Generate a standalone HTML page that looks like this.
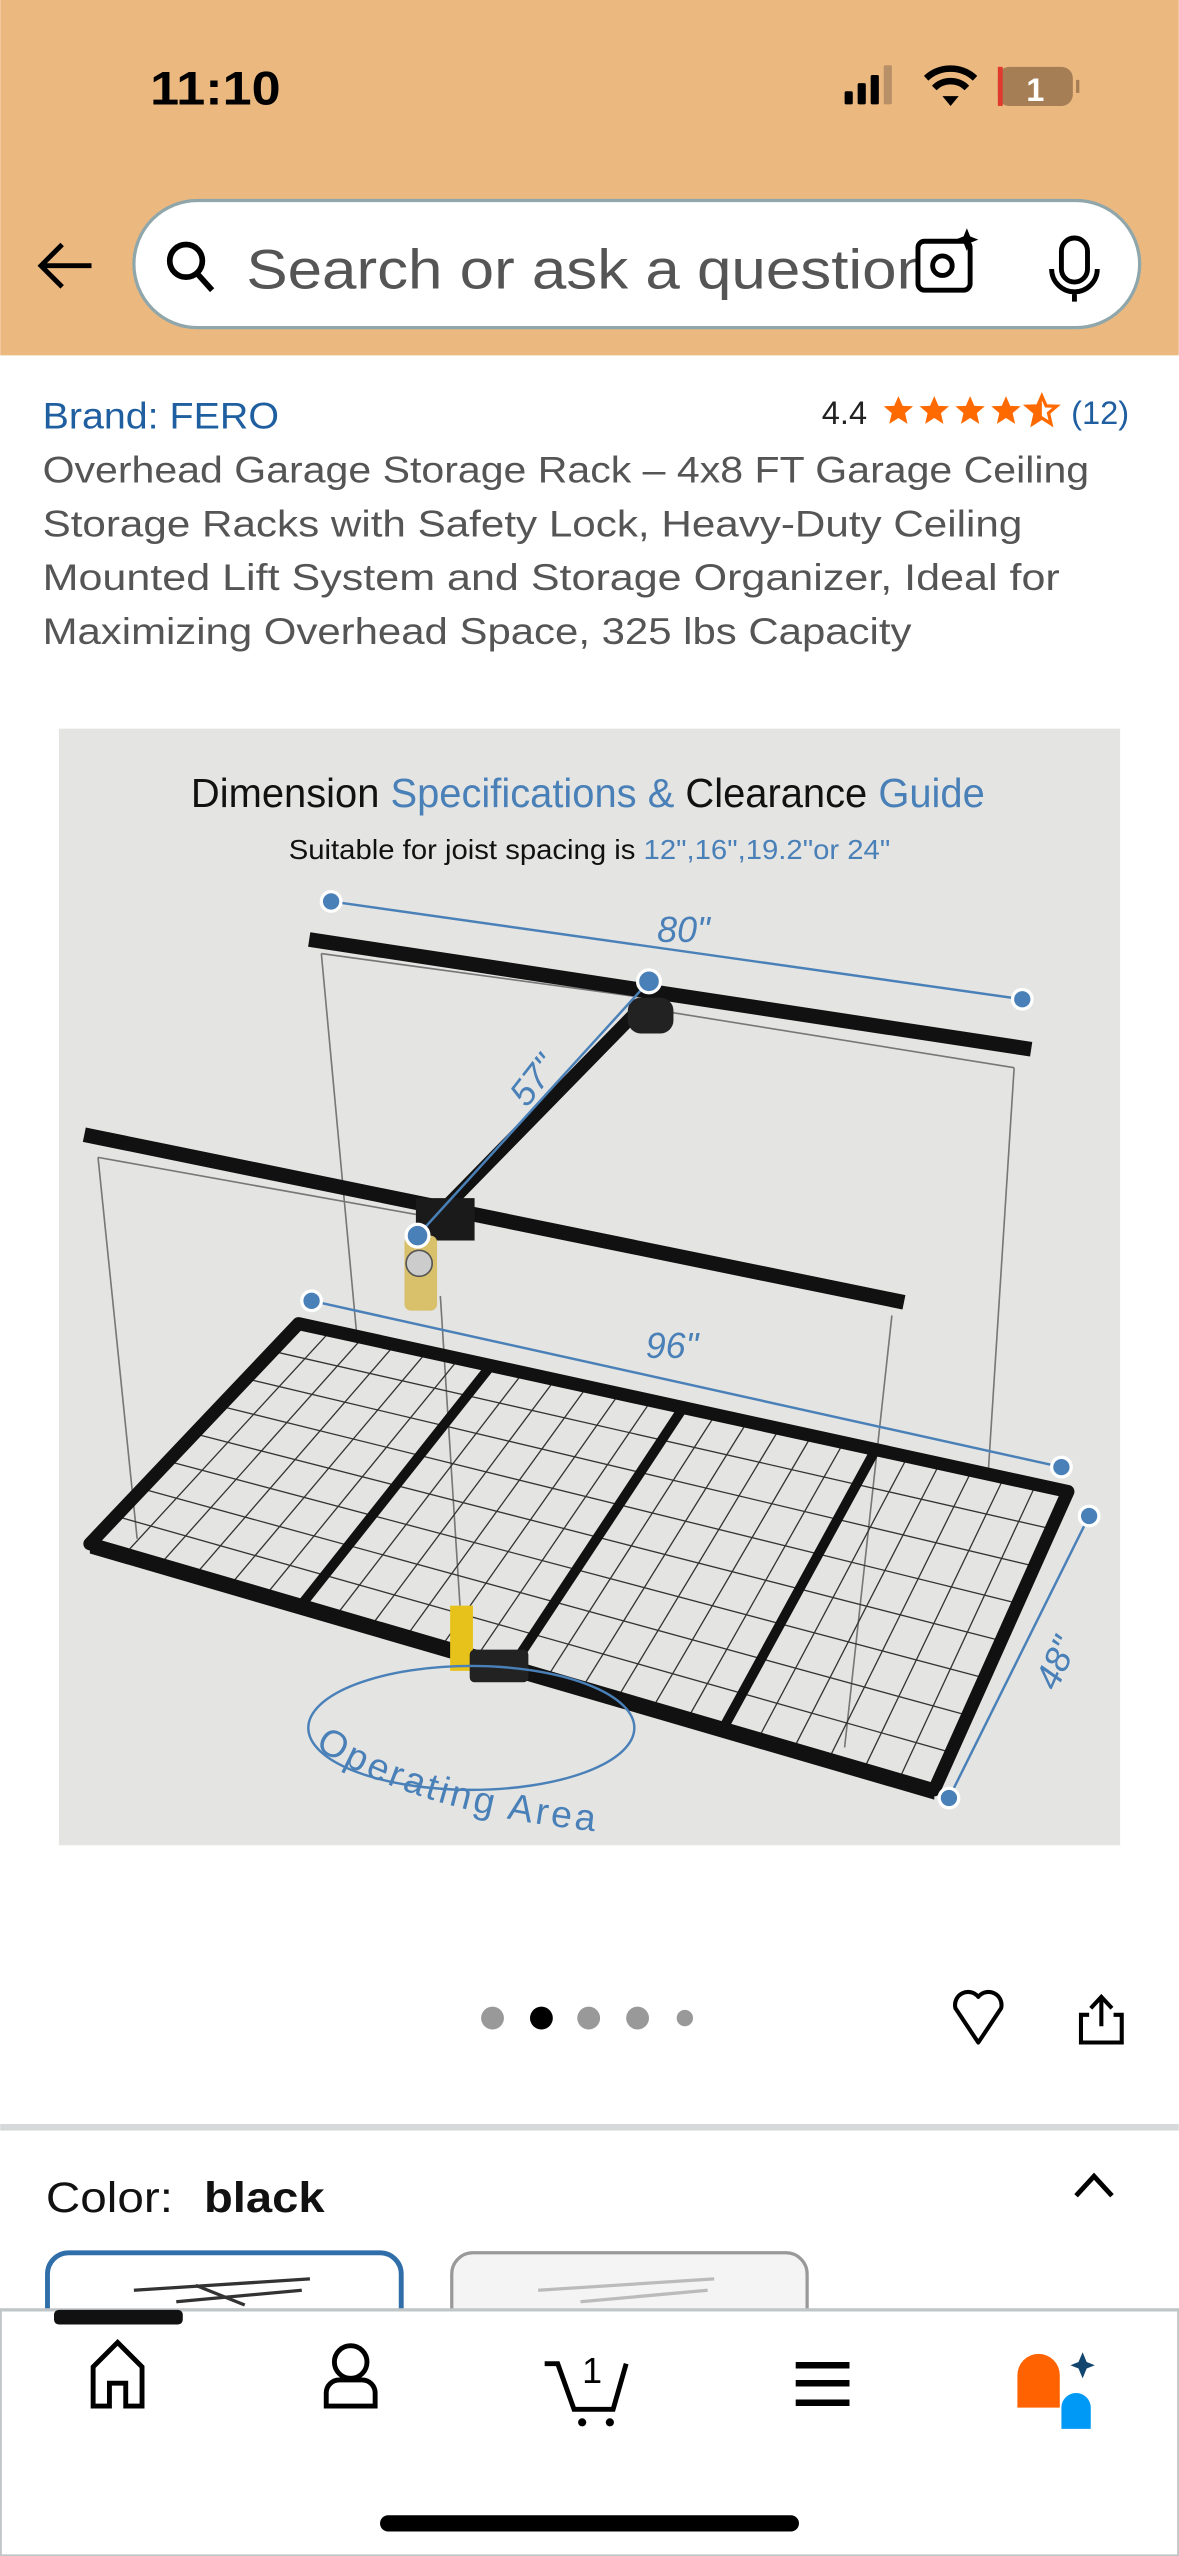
<!DOCTYPE html>
<html><head><meta charset="utf-8"><style>
html,body{margin:0;padding:0;background:#fff;}
svg{display:block;}
text{font-family:"Liberation Sans",sans-serif;}
</style></head><body>
<svg width="1179" height="2556" viewBox="0 0 723 1568" xmlns="http://www.w3.org/2000/svg">
<defs>
<polygon id="star" points="0,-9 2.6,-3 9,-2.8 4.1,1.4 5.6,8 0,4.4 -5.6,8 -4.1,1.4 -9,-2.8 -2.6,-3"/>
</defs>
<rect x="0" y="0" width="723" height="218" fill="#ebb980"/>
<text x="92" y="64" font-size="29" font-weight="bold" fill="#000" textLength="80" lengthAdjust="spacingAndGlyphs">11:10</text>
<rect x="518" y="56" width="5" height="8" rx="1" fill="#000"/>
<rect x="526" y="51" width="5" height="13" rx="1" fill="#000"/>
<rect x="534" y="46" width="5" height="18" rx="1" fill="#000"/>
<rect x="542" y="40" width="5" height="24" rx="1" fill="#b89068"/>
<path d="M568,48 A22,22 0 0 1 598,48" stroke="#000" stroke-width="4" fill="none"/>
<path d="M573,54 A14,14 0 0 1 593,54" stroke="#000" stroke-width="4" fill="none"/>
<path d="M578,59 L588,59 L583,65 Z" fill="#000"/>
<rect x="612" y="41" width="46" height="24" rx="7" fill="#a57e55"/>
<rect x="612" y="41" width="3" height="24" fill="#e03a2f"/>
<rect x="660" y="49" width="2" height="8" fill="#a57e55"/>
<text x="635" y="62" font-size="20" font-weight="bold" fill="#fff" text-anchor="middle">1</text>
<path d="M56,163 H25 M38,150 L25,163 L38,176" stroke="#000" stroke-width="3" fill="none"/>
<rect x="82" y="123" width="617" height="78" rx="39" fill="#fff" stroke="#8fa6ab" stroke-width="2"/>
<circle cx="114" cy="160" r="10" stroke="#000" stroke-width="3.5" fill="none"/>
<line x1="121" y1="168" x2="130" y2="178" stroke="#000" stroke-width="3.5"/>
<text x="151" y="177" font-size="34" fill="#555" textLength="420" lengthAdjust="spacingAndGlyphs">Search or ask a question</text>
<rect x="563" y="148" width="32" height="30" rx="4" fill="#fff" stroke="#000" stroke-width="3"/>
<circle cx="578" cy="163" r="6" stroke="#000" stroke-width="3" fill="none"/>
<path d="M593,140 l2,5 5,2 -5,2 -2,5 -2,-5 -5,-2 5,-2z" fill="#000"/>
<rect x="651" y="146" width="16" height="27" rx="8" stroke="#000" stroke-width="3" fill="none"/>
<path d="M645,165 a14,14 0 0 0 28,0 M659,179 v6" stroke="#000" stroke-width="3" fill="none"/>
<text x="26" y="263" font-size="23" fill="#1f5fa0" textLength="145" lengthAdjust="spacingAndGlyphs">Brand: FERO</text>
<text x="504" y="260" font-size="20" fill="#222">4.4</text>
<g fill="#ff6a00">
<use href="#star" x="551" y="252"/><use href="#star" x="573" y="252"/><use href="#star" x="595" y="252"/><use href="#star" x="617" y="252"/>
</g>
<use href="#star" x="639" y="252" fill="#fff" stroke="#ff6a00" stroke-width="2"/>
<path d="M639,243 L636.4,249 630,249.2 634.9,253.4 633.4,260 639,256.4Z" fill="#ff6a00"/>
<text x="657" y="260" font-size="20" fill="#1f5fa0">(12)</text>
<g font-size="23" fill="#555">
<text x="26" y="296" textLength="642" lengthAdjust="spacingAndGlyphs">Overhead Garage Storage Rack – 4x8 FT Garage Ceiling</text>
<text x="26" y="329" textLength="601" lengthAdjust="spacingAndGlyphs">Storage Racks with Safety Lock, Heavy-Duty Ceiling</text>
<text x="26" y="362" textLength="624" lengthAdjust="spacingAndGlyphs">Mounted Lift System and Storage Organizer, Ideal for</text>
<text x="26" y="395" textLength="533" lengthAdjust="spacingAndGlyphs">Maximizing Overhead Space, 325 lbs Capacity</text>
</g>
<rect x="36" y="447" width="651" height="685" fill="#e4e4e2"/>
<text x="117" y="495" font-size="25" textLength="487" lengthAdjust="spacingAndGlyphs" fill="#111">Dimension <tspan fill="#4a80b8">Specifications &amp;</tspan> Clearance <tspan fill="#4a80b8">Guide</tspan></text>
<text x="177" y="527" font-size="17" textLength="369" lengthAdjust="spacingAndGlyphs" fill="#111">Suitable for joist spacing is <tspan fill="#4a80b8">12",16",19.2"or 24"</tspan></text>
<!-- cables -->
<g stroke="#777" stroke-width="1" fill="none">
<line x1="197" y1="585" x2="219" y2="822"/>
<line x1="622" y1="655" x2="606" y2="905"/>
<line x1="60" y1="710" x2="84" y2="944"/>
<line x1="547" y1="807" x2="518" y2="1072"/>
<line x1="270" y1="795" x2="283" y2="1000"/>
<line x1="197" y1="585" x2="395" y2="612"/>
<line x1="622" y1="655" x2="405" y2="620"/>
<line x1="60" y1="710" x2="255" y2="745"/>
</g>
<!-- grid -->
<g stroke="#333" stroke-width="0.8">
<line x1="202.7" y1="816.3" x2="76.6" y2="953.3"/><line x1="222.3" y1="820.6" x2="98.2" y2="959.6"/><line x1="242" y1="824.9" x2="119.8" y2="965.9"/><line x1="261.7" y1="829.2" x2="141.3" y2="972.2"/><line x1="281.3" y1="833.5" x2="162.9" y2="978.5"/>
<line x1="320.7" y1="842" x2="206.1" y2="991"/><line x1="340.3" y1="846.3" x2="227.7" y2="997.3"/><line x1="360" y1="850.6" x2="249.3" y2="1003.6"/><line x1="379.7" y1="854.9" x2="270.8" y2="1009.9"/><line x1="399.3" y1="859.2" x2="292.4" y2="1016.2"/>
<line x1="438.7" y1="867.8" x2="335.6" y2="1028.8"/><line x1="458.3" y1="872.1" x2="357.2" y2="1035.1"/><line x1="478" y1="876.4" x2="378.8" y2="1041.4"/><line x1="497.7" y1="880.7" x2="400.3" y2="1047.7"/><line x1="517.3" y1="885" x2="421.9" y2="1054"/>
<line x1="556.7" y1="893.5" x2="465.1" y2="1066.5"/><line x1="576.3" y1="897.8" x2="486.7" y2="1072.8"/><line x1="596" y1="902.1" x2="508.3" y2="1079.1"/><line x1="615.7" y1="906.4" x2="529.8" y2="1085.4"/><line x1="635.3" y1="910.7" x2="551.4" y2="1091.7"/>
<line x1="167" y1="828.9" x2="644.8" y2="937.9"/><line x1="151" y1="845.8" x2="634.5" y2="960.8"/><line x1="135" y1="862.6" x2="624.3" y2="983.6"/><line x1="119" y1="879.5" x2="614" y2="1006.5"/><line x1="103" y1="896.4" x2="603.8" y2="1029.4"/><line x1="87" y1="913.3" x2="593.5" y2="1052.3"/><line x1="71" y1="930.1" x2="583.3" y2="1075.1"/>
</g>
<g stroke="#111" stroke-width="6" fill="none" stroke-linejoin="round">
<line x1="301" y1="837.8" x2="184.5" y2="984.8"/>
<line x1="419" y1="863.5" x2="314" y2="1022.5"/>
<line x1="537" y1="889.3" x2="443.5" y2="1060.3"/>
<polygon points="183,812 655,915 573,1098 55,947" stroke-width="8"/>
</g>
<polygon points="55,947 573,1098 573,1104 55,953" fill="#111"/>
<!-- drill -->
<rect x="276" y="985" width="14" height="40" fill="#e6c21a"/>
<rect x="288" y="1012" width="36" height="20" rx="3" fill="#222"/>
<!-- beams -->
<g stroke="#111" stroke-linecap="square">
<line x1="194" y1="577" x2="628" y2="643" stroke-width="9"/>
<line x1="56" y1="697" x2="550" y2="798" stroke-width="9"/>
<line x1="396" y1="615" x2="262" y2="752" stroke-width="8"/>
</g>
<rect x="385" y="612" width="28" height="22" rx="8" fill="#222"/>
<rect x="255" y="735" width="36" height="26" fill="#1a1a1a"/>
<rect x="248" y="758" width="20" height="46" rx="4" fill="#d9c06a"/>
<circle cx="257" cy="775" r="8" fill="#ccc" stroke="#555"/>
<!-- dimensions -->
<g stroke="#4a80b8" stroke-width="1.5" fill="#4a80b8">
<line x1="203" y1="553" x2="627" y2="613"/>
<line x1="398" y1="602" x2="256" y2="758"/>
<line x1="191" y1="798" x2="651" y2="900"/>
<line x1="668" y1="930" x2="582" y2="1103"/>
<ellipse cx="289" cy="1060" rx="100" ry="38" fill="none"/>
</g>
<g fill="#4a80b8" stroke="#fff" stroke-width="2">
<circle cx="203" cy="553" r="6"/><circle cx="627" cy="613" r="6"/><circle cx="398" cy="602" r="7"/><circle cx="256" cy="758" r="7"/>
<circle cx="191" cy="798" r="6"/><circle cx="651" cy="900" r="6"/><circle cx="668" cy="930" r="6"/><circle cx="582" cy="1103" r="6"/>
</g>
<g fill="#4a80b8" font-size="22" font-style="italic">
<text x="403" y="578">80"</text>
<text x="396" y="833">96"</text>
<text transform="translate(323,680) rotate(-52)">57"</text>
<text transform="translate(648,1038) rotate(-66)">48"</text>
</g>
<path id="op" d="M193,1072 Q260,1115 382,1125" fill="none"/>
<text font-size="23" fill="#4a80b8" letter-spacing="2"><textPath href="#op">Operating Area</textPath></text>
<!-- dots -->
<circle cx="302" cy="1238" r="7" fill="#999"/><circle cx="332" cy="1238" r="7" fill="#000"/><circle cx="361" cy="1238" r="7" fill="#999"/><circle cx="391" cy="1238" r="7" fill="#999"/><circle cx="420" cy="1238" r="5" fill="#999"/>
<path d="M600,1253 L586,1232 A8,8 0 0 1 600,1225 A8,8 0 0 1 614,1232 Z" stroke="#000" stroke-width="2.5" fill="none" stroke-linejoin="round"/>
<path d="M668,1236 H663 V1253 H688 V1236 H683 M675.5,1243 V1226 M669,1232 L675.5,1225 L682,1232" stroke="#000" stroke-width="2.5" fill="none"/>
<rect x="0" y="1303" width="723" height="4" fill="#d5d9d9"/>
<text x="28" y="1357" font-size="26" fill="#111" textLength="78" lengthAdjust="spacingAndGlyphs">Color:</text>
<text x="125" y="1357" font-size="26" font-weight="bold" fill="#111" textLength="74" lengthAdjust="spacingAndGlyphs">black</text>
<path d="M660,1347 L671,1335 L682,1347" stroke="#000" stroke-width="3" fill="none"/>
<rect x="29" y="1382" width="217" height="80" rx="13" fill="#fff" stroke="#2f6ea8" stroke-width="3"/>
<rect x="277" y="1382" width="218" height="80" rx="13" fill="#f4f4f4" stroke="#999" stroke-width="2"/>
<g stroke="#333" stroke-width="2"><line x1="82" y1="1405" x2="190" y2="1398"/><line x1="108" y1="1412" x2="185" y2="1405"/><line x1="120" y1="1402" x2="150" y2="1414"/></g>
<g stroke="#bbb" stroke-width="2"><line x1="330" y1="1405" x2="438" y2="1398"/><line x1="356" y1="1412" x2="434" y2="1405"/></g>
<rect x="0" y="1417" width="723" height="151" fill="#fff" stroke="#c0c6c8" stroke-width="2"/>
<rect x="33" y="1417" width="79" height="9" rx="3" fill="#111"/>
<path d="M57,1476 V1452 L72,1437 L87,1452 V1476 H77 V1462 H67 V1476 Z" stroke="#000" stroke-width="3" fill="none"/>
<circle cx="215" cy="1449" r="10" stroke="#000" stroke-width="3" fill="none"/>
<path d="M200,1476 V1468 A8,8 0 0 1 208,1460 H222 A8,8 0 0 1 230,1468 V1476 Z" stroke="#000" stroke-width="3" fill="none"/>
<path d="M334,1450 H342 L352,1478 H376 L384,1450" stroke="#000" stroke-width="3" fill="none"/>
<text x="357" y="1462" font-size="22" fill="#000">1</text>
<circle cx="357" cy="1486" r="2.5"/><circle cx="374" cy="1486" r="2.5"/>
<g stroke="#000" stroke-width="4"><line x1="488" y1="1451" x2="521" y2="1451"/><line x1="488" y1="1462" x2="521" y2="1462"/><line x1="488" y1="1474" x2="521" y2="1474"/></g>
<path d="M624,1477 V1457 A13,13 0 0 1 650,1457 V1477 Z" fill="#ff6200"/>
<path d="M651,1490 V1477 A9,9 0 0 1 669,1477 V1490 Z" fill="#0099f5"/>
<path d="M664,1443 l2.5,6 5,2 -5,2 -2.5,6 -2.5,-6 -5,-2 5,-2z" fill="#13466f"/>
<rect x="233" y="1543" width="257" height="10" rx="5" fill="#000"/>
</svg>
</body></html>
